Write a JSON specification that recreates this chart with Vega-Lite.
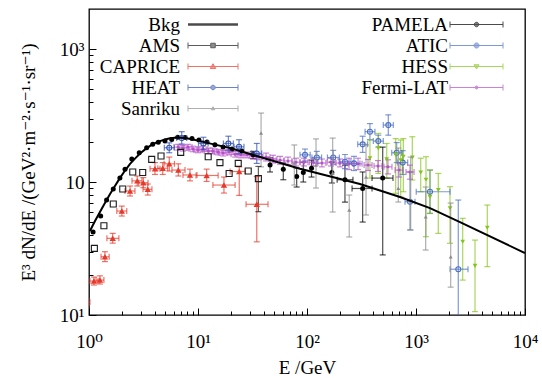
{
"$schema": "https://vega.github.io/schema/vega-lite/v6.json",
"width": 436, "height": 306,
"autosize": "none",
"padding": {"left": 89, "top": 9, "right": 17, "bottom": 63},
"background": "white",
"config": {
  "view": {"stroke": "#000000", "strokeWidth": 1.3},
  "font": "Liberation Serif, Times New Roman, DejaVu Serif, serif",
  "axis": {"domain": false, "grid": false, "labelFont": "Liberation Serif, Times New Roman, DejaVu Serif, serif", "labelFontSize": 19, "labelColor": "#000000", "titleFont": "Liberation Serif, Times New Roman, DejaVu Serif, serif", "titleFontSize": 19, "titleColor": "#000000", "titleFontWeight": "normal", "tickColor": "#000000", "tickWidth": 1, "labelFlush": false, "labelOverlap": false},
  "legend": {"labelFont": "Liberation Serif, Times New Roman, DejaVu Serif, serif", "labelFontSize": 19, "labelColor": "#000000"}
},
"data": {"values": [
{"s":"Bkg","E":1.02,"y":42.8},{"s":"Bkg","E":1.135,"y":50.9},{"s":"Bkg","E":1.26,"y":59.5},{"s":"Bkg","E":1.40,"y":69.5},{"s":"Bkg","E":1.56,"y":81.2},{"s":"Bkg","E":1.73,"y":93.3},{"s":"Bkg","E":1.92,"y":107},{"s":"Bkg","E":2.14,"y":122},{"s":"Bkg","E":2.38,"y":137},{"s":"Bkg","E":2.64,"y":150},{"s":"Bkg","E":2.94,"y":164},{"s":"Bkg","E":3.27,"y":176},{"s":"Bkg","E":3.63,"y":187},{"s":"Bkg","E":4.03,"y":196},{"s":"Bkg","E":4.48,"y":203},{"s":"Bkg","E":4.98,"y":209},{"s":"Bkg","E":5.54,"y":213},{"s":"Bkg","E":6.42,"y":216},{"s":"Bkg","E":7.60,"y":214},{"s":"Bkg","E":8.81,"y":210},{"s":"Bkg","E":10.4,"y":203},{"s":"Bkg","E":14.3,"y":191},{"s":"Bkg","E":19.7,"y":180},{"s":"Bkg","E":37.1,"y":154},{"s":"Bkg","E":86.3,"y":126},{"s":"Bkg","E":306,"y":96.6},{"s":"Bkg","E":713,"y":77.1},{"s":"Bkg","E":1344,"y":63.7},{"s":"Bkg","E":2533,"y":50.0},{"s":"Bkg","E":10000,"y":29.2},
{"s":"AMS","E":1.12,"y":31.7},{"s":"AMS","E":1.37,"y":46.9},{"s":"AMS","E":1.67,"y":68.3},{"s":"AMS","E":2.04,"y":88.6},{"s":"AMS","E":2.52,"y":119},{"s":"AMS","E":3.11,"y":118},{"s":"AMS","E":3.76,"y":148},{"s":"AMS","E":4.58,"y":157},{"s":"AMS","E":6.94,"y":167},{"s":"AMS","E":12.4,"y":155},{"s":"AMS","E":15.9,"y":140},{"s":"AMS","E":19.3,"y":116},{"s":"AMS","E":23.4,"y":138},{"s":"AMS","E":28.9,"y":121},{"s":"AMS","E":35.8,"y":106,"yl":59.8,"yh":131},
{"s":"CAPRICE","E":0.95,"y":12.5,"xl":0.9,"xh":1.02,"yl":11.8,"yh":13.3},
{"s":"CAPRICE","E":1.11,"y":18.0,"xl":1.02,"xh":1.21,"yl":16.8,"yh":19.3},
{"s":"CAPRICE","E":1.26,"y":18.3,"xl":1.16,"xh":1.37,"yl":17.1,"yh":19.7},
{"s":"CAPRICE","E":1.40,"y":27.4,"xl":1.29,"xh":1.53,"yl":25.2,"yh":29.9},
{"s":"CAPRICE","E":1.65,"y":37.7,"xl":1.46,"xh":1.88,"yl":34.7,"yh":41.1},
{"s":"CAPRICE","E":2.00,"y":60.5,"xl":1.80,"xh":2.22,"yl":55.5,"yh":65.9},
{"s":"CAPRICE","E":2.38,"y":85.6,"xl":2.14,"xh":2.64,"yl":78.5,"yh":93.3},
{"s":"CAPRICE","E":2.77,"y":102,"xl":2.48,"xh":3.06,"yl":93.3,"yh":111},
{"s":"CAPRICE","E":3.15,"y":98.8,"xl":2.85,"xh":3.48,"yl":90.6,"yh":108},
{"s":"CAPRICE","E":3.46,"y":88.1,"xl":3.13,"xh":3.78,"yl":79.8,"yh":96.6},
{"s":"CAPRICE","E":4.03,"y":126,"xl":3.63,"xh":4.48,"yl":114,"yh":140},
{"s":"CAPRICE","E":4.75,"y":127,"xl":4.28,"xh":5.27,"yl":114,"yh":140},
{"s":"CAPRICE","E":5.45,"y":137,"xl":4.88,"xh":6.08,"yl":121,"yh":154},
{"s":"CAPRICE","E":6.60,"y":123,"xl":5.77,"xh":7.60,"yl":111,"yh":137},
{"s":"CAPRICE","E":8.44,"y":113,"xl":7.28,"xh":9.79,"yl":102,"yh":125},
{"s":"CAPRICE","E":12.0,"y":112,"xl":9.59,"xh":15.3,"yl":101,"yh":125},
{"s":"CAPRICE","E":17.3,"y":94.9,"xl":13.7,"xh":21.9,"yl":82.6,"yh":109},
{"s":"CAPRICE","E":23.9,"y":120,"xl":19.7,"xh":27.0,"yl":79.3,"yh":130},
{"s":"CAPRICE","E":34.6,"y":68.0,"xl":27.6,"xh":43.9,"yl":35.5,"yh":110},
{"s":"HEAT","E":5.45,"y":181,"xl":4.91,"xh":6.06,"yl":166,"yh":197},
{"s":"HEAT","E":7.09,"y":214,"xl":6.38,"xh":7.88,"yl":193,"yh":239},
{"s":"HEAT","E":11.2,"y":195,"xl":10.1,"xh":12.4,"yl":175,"yh":217},
{"s":"HEAT","E":19.0,"y":195,"xl":17.1,"xh":21.1,"yl":173,"yh":221},
{"s":"HEAT","E":23.8,"y":184,"xl":21.4,"xh":26.4,"yl":163,"yh":208},
{"s":"HEAT","E":34.6,"y":164,"xl":31.1,"xh":38.4,"yl":138,"yh":195},
{"s":"Sanriku","E":37.9,"y":234,"yl":130,"yh":330},
{"s":"Sanriku","E":76.5,"y":139,"yl":94.9,"yh":190},
{"s":"Sanriku","E":121,"y":134,"yl":90.1,"yh":211},
{"s":"Sanriku","E":172,"y":117,"yl":59.5,"yh":214},
{"s":"Sanriku","E":244,"y":61.6,"yl":38.6,"yh":79.8},
{"s":"Sanriku","E":348,"y":109,"yl":56.5,"yh":190},
{"s":"Sanriku","E":688,"y":89.7,"yl":70.7,"yh":180},
{"s":"Sanriku","E":894,"y":73.2,"yl":43.6,"yh":154},
{"s":"Sanriku","E":1227,"y":54.8,"yl":30.8,"yh":91.7},
{"s":"Sanriku","E":2081,"y":27.4,"yl":16.2,"yh":69.5},
{"s":"PAMELA","E":1.09,"y":42.1},{"s":"PAMELA","E":1.28,"y":55.5},{"s":"PAMELA","E":1.45,"y":73.2},{"s":"PAMELA","E":1.67,"y":88.6},{"s":"PAMELA","E":1.92,"y":107},{"s":"PAMELA","E":2.14,"y":125},{"s":"PAMELA","E":2.47,"y":149},{"s":"PAMELA","E":2.89,"y":166},{"s":"PAMELA","E":3.38,"y":181},{"s":"PAMELA","E":3.84,"y":192},{"s":"PAMELA","E":4.32,"y":199},{"s":"PAMELA","E":4.98,"y":203},{"s":"PAMELA","E":5.74,"y":209},{"s":"PAMELA","E":6.51,"y":217},{"s":"PAMELA","E":7.60,"y":216},{"s":"PAMELA","E":8.81,"y":212},{"s":"PAMELA","E":10.2,"y":207},{"s":"PAMELA","E":12.1,"y":200},{"s":"PAMELA","E":14.3,"y":191},{"s":"PAMELA","E":17.0,"y":183},{"s":"PAMELA","E":20.5,"y":177},{"s":"PAMELA","E":25.3,"y":171},
{"s":"PAMELA","E":32.0,"y":160,"yl":150,"yh":170},
{"s":"PAMELA","E":45.8,"y":134,"yl":119,"yh":152},
{"s":"PAMELA","E":60.6,"y":125,"yl":104,"yh":139},
{"s":"PAMELA","E":80.4,"y":110,"yl":91.7,"yh":127},
{"s":"PAMELA","E":92.5,"y":118,"yl":100,"yh":141},
{"s":"PAMELA","E":110,"y":127,"yl":109,"yh":146},
{"s":"PAMELA","E":169,"y":118,"yl":98.3,"yh":141},
{"s":"PAMELA","E":223,"y":104,"yl":70.7,"yh":134,"xl":189,"xh":264},
{"s":"PAMELA","E":324,"y":89.4,"yl":50,"yh":119,"xl":259,"xh":395},
{"s":"PAMELA","E":495,"y":107,"yl":28.3,"yh":183,"xl":395,"xh":615},
{"s":"ATIC","E":95.9,"y":160,"xl":86.3,"xh":107,"yl":144,"yh":177},
{"s":"ATIC","E":123,"y":153,"xl":111,"xh":136,"yl":138,"yh":170},
{"s":"ATIC","E":174,"y":153,"xl":154,"xh":198,"yl":136,"yh":173},
{"s":"ATIC","E":223,"y":142,"xl":197,"xh":253,"yl":126,"yh":161},
{"s":"ATIC","E":270,"y":138,"xl":238,"xh":306,"yl":122,"yh":156},
{"s":"ATIC","E":324,"y":192,"xl":292,"xh":360,"yl":167,"yh":221},
{"s":"ATIC","E":378,"y":239,"xl":341,"xh":420,"yl":208,"yh":275},
{"s":"ATIC","E":451,"y":203,"xl":406,"xh":501,"yl":183,"yh":225},
{"s":"ATIC","E":557,"y":268,"xl":501,"xh":619,"yl":225,"yh":320},
{"s":"ATIC","E":665,"y":166,"xl":599,"xh":739,"yl":140,"yh":198},
{"s":"ATIC","E":755,"y":140,"xl":680,"xh":839,"yl":114,"yh":172},
{"s":"ATIC","E":881,"y":71.1,"xl":793,"xh":979,"yl":43.6,"yh":119},
{"s":"ATIC","E":1344,"y":84.5,"xl":1005,"xh":2051,"yl":58.0,"yh":123},
{"s":"ATIC","E":2443,"y":22.1,"xl":2051,"xh":3000,"yl":5,"yh":73.2},
{"s":"HESS","E":378,"y":151,"yl":107,"yh":207},
{"s":"HESS","E":451,"y":179,"yl":116,"yh":232},
{"s":"HESS","E":539,"y":148,"yl":107,"yh":195},
{"s":"HESS","E":651,"y":160,"yl":82.2,"yh":212},
{"s":"HESS","E":724,"y":146,"yl":77.1,"yh":207},
{"s":"HESS","E":765,"y":155,"yl":84.5,"yh":212},
{"s":"HESS","E":925,"y":153,"yl":103.5,"yh":219},
{"s":"HESS","E":1105,"y":118,"yl":84.5,"yh":151},
{"s":"HESS","E":1235,"y":104,"yl":38.8,"yh":155},
{"s":"HESS","E":1344,"y":77.1,"yl":58.2,"yh":123},
{"s":"HESS","E":1602,"y":87.1,"yl":41.1,"yh":116},
{"s":"HESS","E":2051,"y":63.4,"yl":34.6,"yh":92.2},
{"s":"HESS","E":2682,"y":35.6,"yl":18.3,"yh":53.3},
{"s":"HESS","E":3478,"y":23.4,"yl":10.6,"yh":36.6},
{"s":"HESS","E":4509,"y":45.3,"yl":23.1,"yh":67.1},
{"s":"Fermi-LAT","E":6.56,"y":183,"xl":6.03,"xh":7.13,"yl":174,"yh":192},
{"s":"Fermi-LAT","E":7.28,"y":180,"xl":6.69,"xh":7.92,"yl":171,"yh":189},
{"s":"Fermi-LAT","E":8.10,"y":183,"xl":7.44,"xh":8.81,"yl":174,"yh":192},
{"s":"Fermi-LAT","E":9.00,"y":177,"xl":8.27,"xh":9.79,"yl":169,"yh":186},
{"s":"Fermi-LAT","E":10.0,"y":174,"xl":9.19,"xh":10.9,"yl":166,"yh":183},
{"s":"Fermi-LAT","E":11.1,"y":177,"xl":10.2,"xh":12.1,"yl":169,"yh":186},
{"s":"Fermi-LAT","E":12.4,"y":171,"xl":11.4,"xh":13.5,"yl":163,"yh":180},
{"s":"Fermi-LAT","E":13.7,"y":171,"xl":12.6,"xh":14.9,"yl":163,"yh":180},
{"s":"Fermi-LAT","E":15.3,"y":168,"xl":14.1,"xh":16.6,"yl":160,"yh":176},
{"s":"Fermi-LAT","E":17.0,"y":165,"xl":15.6,"xh":18.5,"yl":157,"yh":173},
{"s":"Fermi-LAT","E":19.3,"y":168,"xl":17.7,"xh":21.0,"yl":160,"yh":176},
{"s":"Fermi-LAT","E":21.9,"y":162,"xl":20.1,"xh":23.8,"yl":154,"yh":170},
{"s":"Fermi-LAT","E":24.8,"y":160,"xl":22.8,"xh":27.0,"yl":152,"yh":168},
{"s":"Fermi-LAT","E":28.2,"y":160,"xl":25.9,"xh":30.7,"yl":152,"yh":168},
{"s":"Fermi-LAT","E":32.0,"y":157,"xl":29.4,"xh":34.8,"yl":149,"yh":165},
{"s":"Fermi-LAT","E":36.3,"y":154,"xl":33.4,"xh":39.5,"yl":147,"yh":162},
{"s":"Fermi-LAT","E":42.1,"y":154,"xl":38.7,"xh":45.8,"yl":144,"yh":165},
{"s":"Fermi-LAT","E":48.8,"y":149,"xl":44.8,"xh":53.1,"yl":139,"yh":159},
{"s":"Fermi-LAT","E":56.6,"y":146,"xl":52.0,"xh":61.6,"yl":136,"yh":156},
{"s":"Fermi-LAT","E":66.9,"y":144,"xl":61.5,"xh":72.8,"yl":135,"yh":154},
{"s":"Fermi-LAT","E":79.3,"y":141,"xl":72.9,"xh":86.3,"yl":132,"yh":151},
{"s":"Fermi-LAT","E":93.9,"y":141,"xl":86.3,"xh":102,"yl":132,"yh":151},
{"s":"Fermi-LAT","E":114,"y":141,"xl":105,"xh":124,"yl":132,"yh":151},
{"s":"Fermi-LAT","E":137,"y":139,"xl":126,"xh":149,"yl":130,"yh":149},
{"s":"Fermi-LAT","E":166,"y":141,"xl":153,"xh":181,"yl":132,"yh":151},
{"s":"Fermi-LAT","E":201,"y":139,"xl":185,"xh":219,"yl":130,"yh":149},
{"s":"Fermi-LAT","E":243,"y":137,"xl":223,"xh":264,"yl":124,"yh":151},
{"s":"Fermi-LAT","E":294,"y":137,"xl":270,"xh":320,"yl":124,"yh":151},
{"s":"Fermi-LAT","E":363,"y":134,"xl":334,"xh":395,"yl":122,"yh":148},
{"s":"Fermi-LAT","E":448,"y":132,"xl":412,"xh":487,"yl":120,"yh":145},
{"s":"Fermi-LAT","E":553,"y":130,"xl":508,"xh":602,"yl":115,"yh":147},
{"s":"Fermi-LAT","E":698,"y":123,"xl":642,"xh":760,"yl":109,"yh":139},
{"s":"Fermi-LAT","E":881,"y":119,"xl":810,"xh":959,"yl":105,"yh":134}
]},
"layer": [
{
 "transform": [{"filter": "indexof(['PAMELA','ATIC','HESS','Fermi-LAT'], datum.s) >= 0"}],
 "layer": [
  {"transform": [{"filter": "false"}], "mark": {"type": "point", "filled": false},
   "encoding": {
    "color": {"field": "s", "type": "nominal", "scale": {"domain": ["PAMELA","ATIC","HESS","Fermi-LAT"], "range": ["#000000","#4a6fc5","#84c51a","#b54fc8"]}},
    "fill": {"field": "s", "type": "nominal", "scale": {"domain": ["PAMELA","ATIC","HESS","Fermi-LAT"], "range": ["#000000","transparent","#84c51a","#b54fc8"]}},
    "shape": {"field": "s", "type": "nominal", "scale": {"domain": ["PAMELA","ATIC","HESS","Fermi-LAT"], "range": [
       "M-5.3,0H5.3M-5.3,-0.6V0.6M5.3,-0.6V0.6M-0.45,0A0.45,0.45,0,1,0,0.45,0A0.45,0.45,0,1,0,-0.45,0Z",
       "M-5.3,0H5.3M-5.3,-0.6V0.6M5.3,-0.6V0.6M-0.5,0A0.5,0.5,0,1,0,0.5,0A0.5,0.5,0,1,0,-0.5,0Z",
       "M-5.3,0H5.3M-5.3,-0.6V0.6M5.3,-0.6V0.6M-0.5,-0.35H0.5L0,0.5Z",
       "M-5.3,0H5.3M-5.3,-0.6V0.6M5.3,-0.6V0.6M-0.3,0A0.3,0.3,0,1,0,0.3,0A0.3,0.3,0,1,0,-0.3,0Z"]},
     "legend": {"title": null, "orient": "none", "legendX": 378, "legendY": 6, "padding": 0, "labelAlign": "right", "labelOffset": -38, "rowPadding": 1, "labelFontSize": 19, "symbolSize": 100, "symbolOpacity": 1, "symbolStrokeWidth": 1}}
   }},
  {"transform": [{"filter": "isValid(datum.yl)"}], "mark": {"type": "rule", "clip": true, "opacity": 0.7, "strokeWidth": 1.2},
   "encoding": {
    "x": {"field": "E", "type": "quantitative", "scale": {"type": "log", "domain": [1, 10000], "nice": false}, "axis": {"orient": "bottom", "values": [2,3,4,5,6,7,8,9,20,30,40,50,60,70,80,90,200,300,400,500,600,700,800,900,2000,3000,4000,5000,6000,7000,8000,9000], "labels": false, "tickSize": -4, "title": null}},
    "y": {"field": "yl", "type": "quantitative", "scale": {"type": "log", "domain": [10, 2000], "nice": false}, "axis": {"orient": "left", "values": [20,30,40,50,60,70,80,90,200,300,400,500,600,700,800,900], "labels": false, "tickSize": -4, "title": null}},
    "y2": {"field": "yh"},
    "color": {"field": "s", "type": "nominal", "scale": {"domain": ["PAMELA","ATIC","HESS","Fermi-LAT"], "range": ["#000000","#4a6fc5","#84c51a","#b54fc8"]}}
   }},
  {"transform": [{"filter": "isValid(datum.yl)"}], "mark": {"type": "tick", "orient": "horizontal", "size": 6, "thickness": 1.2, "clip": true, "opacity": 0.7},
   "encoding": {
    "x": {"field": "E", "type": "quantitative", "scale": {"type": "log", "domain": [1, 10000], "nice": false}, "axis": {"orient": "bottom", "values": [2,3,4,5,6,7,8,9,20,30,40,50,60,70,80,90,200,300,400,500,600,700,800,900,2000,3000,4000,5000,6000,7000,8000,9000], "labels": false, "tickSize": -4, "title": null}},
    "y": {"field": "yl", "type": "quantitative", "scale": {"type": "log", "domain": [10, 2000], "nice": false}, "axis": {"orient": "left", "values": [20,30,40,50,60,70,80,90,200,300,400,500,600,700,800,900], "labels": false, "tickSize": -4, "title": null}},
    "color": {"field": "s", "type": "nominal", "scale": {"domain": ["PAMELA","ATIC","HESS","Fermi-LAT"], "range": ["#000000","#4a6fc5","#84c51a","#b54fc8"]}}
   }},
  {"transform": [{"filter": "isValid(datum.yh)"}], "mark": {"type": "tick", "orient": "horizontal", "size": 6, "thickness": 1.2, "clip": true, "opacity": 0.7},
   "encoding": {
    "x": {"field": "E", "type": "quantitative", "scale": {"type": "log", "domain": [1, 10000], "nice": false}, "axis": {"orient": "bottom", "values": [2,3,4,5,6,7,8,9,20,30,40,50,60,70,80,90,200,300,400,500,600,700,800,900,2000,3000,4000,5000,6000,7000,8000,9000], "labels": false, "tickSize": -4, "title": null}},
    "y": {"field": "yh", "type": "quantitative", "scale": {"type": "log", "domain": [10, 2000], "nice": false}, "axis": {"orient": "left", "values": [20,30,40,50,60,70,80,90,200,300,400,500,600,700,800,900], "labels": false, "tickSize": -4, "title": null}},
    "color": {"field": "s", "type": "nominal", "scale": {"domain": ["PAMELA","ATIC","HESS","Fermi-LAT"], "range": ["#000000","#4a6fc5","#84c51a","#b54fc8"]}}
   }},
  {"transform": [{"filter": "isValid(datum.xl)"}], "mark": {"type": "rule", "clip": true, "opacity": 0.7, "strokeWidth": 1.2},
   "encoding": {
    "x": {"field": "xl", "type": "quantitative", "scale": {"type": "log", "domain": [1, 10000], "nice": false}, "axis": {"orient": "bottom", "values": [2,3,4,5,6,7,8,9,20,30,40,50,60,70,80,90,200,300,400,500,600,700,800,900,2000,3000,4000,5000,6000,7000,8000,9000], "labels": false, "tickSize": -4, "title": null}},
    "x2": {"field": "xh"},
    "y": {"field": "y", "type": "quantitative", "scale": {"type": "log", "domain": [10, 2000], "nice": false}, "axis": {"orient": "left", "values": [20,30,40,50,60,70,80,90,200,300,400,500,600,700,800,900], "labels": false, "tickSize": -4, "title": null}},
    "color": {"field": "s", "type": "nominal", "scale": {"domain": ["PAMELA","ATIC","HESS","Fermi-LAT"], "range": ["#000000","#4a6fc5","#84c51a","#b54fc8"]}}
   }},
  {"transform": [{"filter": "isValid(datum.xl)"}], "mark": {"type": "tick", "orient": "vertical", "size": 6, "thickness": 1.2, "clip": true, "opacity": 0.7},
   "encoding": {
    "x": {"field": "xl", "type": "quantitative", "scale": {"type": "log", "domain": [1, 10000], "nice": false}, "axis": {"orient": "bottom", "values": [2,3,4,5,6,7,8,9,20,30,40,50,60,70,80,90,200,300,400,500,600,700,800,900,2000,3000,4000,5000,6000,7000,8000,9000], "labels": false, "tickSize": -4, "title": null}},
    "y": {"field": "y", "type": "quantitative", "scale": {"type": "log", "domain": [10, 2000], "nice": false}, "axis": {"orient": "left", "values": [20,30,40,50,60,70,80,90,200,300,400,500,600,700,800,900], "labels": false, "tickSize": -4, "title": null}},
    "color": {"field": "s", "type": "nominal", "scale": {"domain": ["PAMELA","ATIC","HESS","Fermi-LAT"], "range": ["#000000","#4a6fc5","#84c51a","#b54fc8"]}}
   }},
  {"transform": [{"filter": "isValid(datum.xh)"}], "mark": {"type": "tick", "orient": "vertical", "size": 6, "thickness": 1.2, "clip": true, "opacity": 0.7},
   "encoding": {
    "x": {"field": "xh", "type": "quantitative", "scale": {"type": "log", "domain": [1, 10000], "nice": false}, "axis": {"orient": "bottom", "values": [2,3,4,5,6,7,8,9,20,30,40,50,60,70,80,90,200,300,400,500,600,700,800,900,2000,3000,4000,5000,6000,7000,8000,9000], "labels": false, "tickSize": -4, "title": null}},
    "y": {"field": "y", "type": "quantitative", "scale": {"type": "log", "domain": [10, 2000], "nice": false}, "axis": {"orient": "left", "values": [20,30,40,50,60,70,80,90,200,300,400,500,600,700,800,900], "labels": false, "tickSize": -4, "title": null}},
    "color": {"field": "s", "type": "nominal", "scale": {"domain": ["PAMELA","ATIC","HESS","Fermi-LAT"], "range": ["#000000","#4a6fc5","#84c51a","#b54fc8"]}}
   }},
  {"transform": [{"filter": "datum.s === 'ATIC'"}], "mark": {"type": "point", "shape": "circle", "size": 25, "filled": false, "opacity": 1, "strokeWidth": 1.1, "clip": true},
   "encoding": {
    "x": {"field": "E", "type": "quantitative", "scale": {"type": "log", "domain": [1, 10000], "nice": false}, "axis": {"orient": "bottom", "values": [2,3,4,5,6,7,8,9,20,30,40,50,60,70,80,90,200,300,400,500,600,700,800,900,2000,3000,4000,5000,6000,7000,8000,9000], "labels": false, "tickSize": -4, "title": null}},
    "y": {"field": "y", "type": "quantitative", "scale": {"type": "log", "domain": [10, 2000], "nice": false}, "axis": {"orient": "left", "values": [20,30,40,50,60,70,80,90,200,300,400,500,600,700,800,900], "labels": false, "tickSize": -4, "title": null}},
    "color": {"field": "s", "type": "nominal", "scale": {"domain": ["PAMELA","ATIC","HESS","Fermi-LAT"], "range": ["#000000","#4a6fc5","#84c51a","#b54fc8"]}}
   }},
  {"transform": [{"filter": "datum.s === 'HESS'"}], "mark": {"type": "point", "shape": "triangle-down", "size": 22, "filled": true, "opacity": 1, "clip": true},
   "encoding": {
    "x": {"field": "E", "type": "quantitative", "scale": {"type": "log", "domain": [1, 10000], "nice": false}, "axis": {"orient": "bottom", "values": [2,3,4,5,6,7,8,9,20,30,40,50,60,70,80,90,200,300,400,500,600,700,800,900,2000,3000,4000,5000,6000,7000,8000,9000], "labels": false, "tickSize": -4, "title": null}},
    "y": {"field": "y", "type": "quantitative", "scale": {"type": "log", "domain": [10, 2000], "nice": false}, "axis": {"orient": "left", "values": [20,30,40,50,60,70,80,90,200,300,400,500,600,700,800,900], "labels": false, "tickSize": -4, "title": null}},
    "color": {"field": "s", "type": "nominal", "scale": {"domain": ["PAMELA","ATIC","HESS","Fermi-LAT"], "range": ["#000000","#4a6fc5","#84c51a","#b54fc8"]}}
   }},
  {"transform": [{"filter": "datum.s === 'Fermi-LAT'"}], "mark": {"type": "point", "shape": "circle", "size": 9, "filled": true, "opacity": 1, "clip": true},
   "encoding": {
    "x": {"field": "E", "type": "quantitative", "scale": {"type": "log", "domain": [1, 10000], "nice": false}, "axis": {"orient": "bottom", "values": [2,3,4,5,6,7,8,9,20,30,40,50,60,70,80,90,200,300,400,500,600,700,800,900,2000,3000,4000,5000,6000,7000,8000,9000], "labels": false, "tickSize": -4, "title": null}},
    "y": {"field": "y", "type": "quantitative", "scale": {"type": "log", "domain": [10, 2000], "nice": false}, "axis": {"orient": "left", "values": [20,30,40,50,60,70,80,90,200,300,400,500,600,700,800,900], "labels": false, "tickSize": -4, "title": null}},
    "color": {"field": "s", "type": "nominal", "scale": {"domain": ["PAMELA","ATIC","HESS","Fermi-LAT"], "range": ["#000000","#4a6fc5","#84c51a","#b54fc8"]}}
   }},
  {"transform": [{"filter": "datum.s === 'PAMELA'"}], "mark": {"type": "point", "shape": "circle", "size": 25, "filled": true, "opacity": 1, "clip": true},
   "encoding": {
    "x": {"field": "E", "type": "quantitative", "scale": {"type": "log", "domain": [1, 10000], "nice": false}, "axis": {"orient": "bottom", "values": [2,3,4,5,6,7,8,9,20,30,40,50,60,70,80,90,200,300,400,500,600,700,800,900,2000,3000,4000,5000,6000,7000,8000,9000], "labels": false, "tickSize": -4, "title": null}},
    "y": {"field": "y", "type": "quantitative", "scale": {"type": "log", "domain": [10, 2000], "nice": false}, "axis": {"orient": "left", "values": [20,30,40,50,60,70,80,90,200,300,400,500,600,700,800,900], "labels": false, "tickSize": -4, "title": null}},
    "color": {"field": "s", "type": "nominal", "scale": {"domain": ["PAMELA","ATIC","HESS","Fermi-LAT"], "range": ["#000000","#4a6fc5","#84c51a","#b54fc8"]}}
   }}
 ]
},
{
 "transform": [{"filter": "indexof(['Bkg','AMS','CAPRICE','HEAT','Sanriku'], datum.s) >= 0"}],
 "layer": [
  {"transform": [{"filter": "false"}], "mark": {"type": "point", "filled": false},
   "encoding": {
    "color": {"field": "s", "type": "nominal", "scale": {"domain": ["Bkg","AMS","CAPRICE","HEAT","Sanriku"], "range": ["#000000","#1a1a1a","#e5392b","#2f4fb0","#8c8c8c"]}},
    "fill": {"field": "s", "type": "nominal", "scale": {"domain": ["Bkg","AMS","CAPRICE","HEAT","Sanriku"], "range": ["transparent","#ffffff","#e5392b","#ffffff","#8c8c8c"]}},
    "shape": {"field": "s", "type": "nominal", "scale": {"domain": ["Bkg","AMS","CAPRICE","HEAT","Sanriku"], "range": [
       "M-5,0H5M-5,0.15H5M-5,-0.15H5",
       "M-5,0H-0.45M0.45,0H5M-5,-0.6V0.6M5,-0.6V0.6M-0.45,-0.45H0.45V0.45H-0.45Z",
       "M-5,0H5M-5,-0.6V0.6M5,-0.6V0.6M-0.55,0.4L0,-0.55L0.55,0.4Z",
       "M-5,0H-0.45M0.45,0H5M-5,-0.6V0.6M5,-0.6V0.6M-0.45,0A0.45,0.45,0,1,0,0.45,0A0.45,0.45,0,1,0,-0.45,0Z",
       "M-5,0H5M-5,-0.6V0.6M5,-0.6V0.6M-0.35,0.25L0,-0.35L0.35,0.25Z"]},
     "legend": {"title": null, "orient": "none", "legendX": 114.5, "legendY": 6, "padding": 0, "labelAlign": "right", "labelOffset": -42.5, "rowPadding": 1, "labelFontSize": 19, "symbolSize": 100, "symbolOpacity": 1, "symbolStrokeWidth": 1}}
   }},
  {"transform": [{"filter": "isValid(datum.yl)"}], "mark": {"type": "rule", "clip": true, "opacity": 0.7, "strokeWidth": 1.2},
   "encoding": {
    "x": {"field": "E", "type": "quantitative", "scale": {"type": "log", "domain": [1, 10000], "nice": false}, "axis": {"orient": "bottom", "values": [1,10,100,1000,10000], "labelExpr": "datum.value==1?'10⁰':datum.value==10?'10¹':datum.value==100?'10²':datum.value==1000?'10³':'10⁴'", "tickSize": -7, "labelPadding": 24, "title": "E /GeV", "titlePadding": 7}},
    "y": {"field": "yl", "type": "quantitative", "scale": {"type": "log", "domain": [10, 2000], "nice": false}, "axis": {"orient": "left", "values": [10,100,1000], "labelExpr": "datum.value==10?'10¹':datum.value==100?'10':'10³'", "tickSize": -7, "labelPadding": 12, "title": "E³ dN/dE /(GeV²·m⁻²·s⁻¹·sr⁻¹)", "titleX": -61, "titleY": 153, "titleAngle": -90, "titleAlign": "center", "titleBaseline": "middle"}},
    "y2": {"field": "yh"},
    "color": {"field": "s", "type": "nominal", "scale": {"domain": ["Bkg","AMS","CAPRICE","HEAT","Sanriku"], "range": ["#000000","#1a1a1a","#e5392b","#2f4fb0","#8c8c8c"]}}
   }},
  {"transform": [{"filter": "isValid(datum.yl)"}], "mark": {"type": "tick", "orient": "horizontal", "size": 6, "thickness": 1.2, "clip": true, "opacity": 0.7},
   "encoding": {
    "x": {"field": "E", "type": "quantitative", "scale": {"type": "log", "domain": [1, 10000], "nice": false}, "axis": {"orient": "bottom", "values": [1,10,100,1000,10000], "labelExpr": "datum.value==1?'10⁰':datum.value==10?'10¹':datum.value==100?'10²':datum.value==1000?'10³':'10⁴'", "tickSize": -7, "labelPadding": 24, "title": "E /GeV", "titlePadding": 7}},
    "y": {"field": "yl", "type": "quantitative", "scale": {"type": "log", "domain": [10, 2000], "nice": false}, "axis": {"orient": "left", "values": [10,100,1000], "labelExpr": "datum.value==10?'10¹':datum.value==100?'10':'10³'", "tickSize": -7, "labelPadding": 12, "title": "E³ dN/dE /(GeV²·m⁻²·s⁻¹·sr⁻¹)", "titleX": -61, "titleY": 153, "titleAngle": -90, "titleAlign": "center", "titleBaseline": "middle"}},
    "color": {"field": "s", "type": "nominal", "scale": {"domain": ["Bkg","AMS","CAPRICE","HEAT","Sanriku"], "range": ["#000000","#1a1a1a","#e5392b","#2f4fb0","#8c8c8c"]}}
   }},
  {"transform": [{"filter": "isValid(datum.yh)"}], "mark": {"type": "tick", "orient": "horizontal", "size": 6, "thickness": 1.2, "clip": true, "opacity": 0.7},
   "encoding": {
    "x": {"field": "E", "type": "quantitative", "scale": {"type": "log", "domain": [1, 10000], "nice": false}, "axis": {"orient": "bottom", "values": [1,10,100,1000,10000], "labelExpr": "datum.value==1?'10⁰':datum.value==10?'10¹':datum.value==100?'10²':datum.value==1000?'10³':'10⁴'", "tickSize": -7, "labelPadding": 24, "title": "E /GeV", "titlePadding": 7}},
    "y": {"field": "yh", "type": "quantitative", "scale": {"type": "log", "domain": [10, 2000], "nice": false}, "axis": {"orient": "left", "values": [10,100,1000], "labelExpr": "datum.value==10?'10¹':datum.value==100?'10':'10³'", "tickSize": -7, "labelPadding": 12, "title": "E³ dN/dE /(GeV²·m⁻²·s⁻¹·sr⁻¹)", "titleX": -61, "titleY": 153, "titleAngle": -90, "titleAlign": "center", "titleBaseline": "middle"}},
    "color": {"field": "s", "type": "nominal", "scale": {"domain": ["Bkg","AMS","CAPRICE","HEAT","Sanriku"], "range": ["#000000","#1a1a1a","#e5392b","#2f4fb0","#8c8c8c"]}}
   }},
  {"transform": [{"filter": "isValid(datum.xl)"}], "mark": {"type": "rule", "clip": true, "opacity": 0.7, "strokeWidth": 1.2},
   "encoding": {
    "x": {"field": "xl", "type": "quantitative", "scale": {"type": "log", "domain": [1, 10000], "nice": false}, "axis": {"orient": "bottom", "values": [1,10,100,1000,10000], "labelExpr": "datum.value==1?'10⁰':datum.value==10?'10¹':datum.value==100?'10²':datum.value==1000?'10³':'10⁴'", "tickSize": -7, "labelPadding": 24, "title": "E /GeV", "titlePadding": 7}},
    "x2": {"field": "xh"},
    "y": {"field": "y", "type": "quantitative", "scale": {"type": "log", "domain": [10, 2000], "nice": false}, "axis": {"orient": "left", "values": [10,100,1000], "labelExpr": "datum.value==10?'10¹':datum.value==100?'10':'10³'", "tickSize": -7, "labelPadding": 12, "title": "E³ dN/dE /(GeV²·m⁻²·s⁻¹·sr⁻¹)", "titleX": -61, "titleY": 153, "titleAngle": -90, "titleAlign": "center", "titleBaseline": "middle"}},
    "color": {"field": "s", "type": "nominal", "scale": {"domain": ["Bkg","AMS","CAPRICE","HEAT","Sanriku"], "range": ["#000000","#1a1a1a","#e5392b","#2f4fb0","#8c8c8c"]}}
   }},
  {"transform": [{"filter": "isValid(datum.xl)"}], "mark": {"type": "tick", "orient": "vertical", "size": 6, "thickness": 1.2, "clip": true, "opacity": 0.7},
   "encoding": {
    "x": {"field": "xl", "type": "quantitative", "scale": {"type": "log", "domain": [1, 10000], "nice": false}, "axis": {"orient": "bottom", "values": [1,10,100,1000,10000], "labelExpr": "datum.value==1?'10⁰':datum.value==10?'10¹':datum.value==100?'10²':datum.value==1000?'10³':'10⁴'", "tickSize": -7, "labelPadding": 24, "title": "E /GeV", "titlePadding": 7}},
    "y": {"field": "y", "type": "quantitative", "scale": {"type": "log", "domain": [10, 2000], "nice": false}, "axis": {"orient": "left", "values": [10,100,1000], "labelExpr": "datum.value==10?'10¹':datum.value==100?'10':'10³'", "tickSize": -7, "labelPadding": 12, "title": "E³ dN/dE /(GeV²·m⁻²·s⁻¹·sr⁻¹)", "titleX": -61, "titleY": 153, "titleAngle": -90, "titleAlign": "center", "titleBaseline": "middle"}},
    "color": {"field": "s", "type": "nominal", "scale": {"domain": ["Bkg","AMS","CAPRICE","HEAT","Sanriku"], "range": ["#000000","#1a1a1a","#e5392b","#2f4fb0","#8c8c8c"]}}
   }},
  {"transform": [{"filter": "isValid(datum.xh)"}], "mark": {"type": "tick", "orient": "vertical", "size": 6, "thickness": 1.2, "clip": true, "opacity": 0.7},
   "encoding": {
    "x": {"field": "xh", "type": "quantitative", "scale": {"type": "log", "domain": [1, 10000], "nice": false}, "axis": {"orient": "bottom", "values": [1,10,100,1000,10000], "labelExpr": "datum.value==1?'10⁰':datum.value==10?'10¹':datum.value==100?'10²':datum.value==1000?'10³':'10⁴'", "tickSize": -7, "labelPadding": 24, "title": "E /GeV", "titlePadding": 7}},
    "y": {"field": "y", "type": "quantitative", "scale": {"type": "log", "domain": [10, 2000], "nice": false}, "axis": {"orient": "left", "values": [10,100,1000], "labelExpr": "datum.value==10?'10¹':datum.value==100?'10':'10³'", "tickSize": -7, "labelPadding": 12, "title": "E³ dN/dE /(GeV²·m⁻²·s⁻¹·sr⁻¹)", "titleX": -61, "titleY": 153, "titleAngle": -90, "titleAlign": "center", "titleBaseline": "middle"}},
    "color": {"field": "s", "type": "nominal", "scale": {"domain": ["Bkg","AMS","CAPRICE","HEAT","Sanriku"], "range": ["#000000","#1a1a1a","#e5392b","#2f4fb0","#8c8c8c"]}}
   }},
  {"transform": [{"filter": "datum.s === 'AMS'"}], "mark": {"type": "point", "shape": "square", "size": 36, "filled": false, "opacity": 1, "strokeWidth": 1.1, "clip": true},
   "encoding": {
    "x": {"field": "E", "type": "quantitative", "scale": {"type": "log", "domain": [1, 10000], "nice": false}, "axis": {"orient": "bottom", "values": [1,10,100,1000,10000], "labelExpr": "datum.value==1?'10⁰':datum.value==10?'10¹':datum.value==100?'10²':datum.value==1000?'10³':'10⁴'", "tickSize": -7, "labelPadding": 24, "title": "E /GeV", "titlePadding": 7}},
    "y": {"field": "y", "type": "quantitative", "scale": {"type": "log", "domain": [10, 2000], "nice": false}, "axis": {"orient": "left", "values": [10,100,1000], "labelExpr": "datum.value==10?'10¹':datum.value==100?'10':'10³'", "tickSize": -7, "labelPadding": 12, "title": "E³ dN/dE /(GeV²·m⁻²·s⁻¹·sr⁻¹)", "titleX": -61, "titleY": 153, "titleAngle": -90, "titleAlign": "center", "titleBaseline": "middle"}},
    "color": {"field": "s", "type": "nominal", "scale": {"domain": ["Bkg","AMS","CAPRICE","HEAT","Sanriku"], "range": ["#000000","#1a1a1a","#e5392b","#2f4fb0","#8c8c8c"]}}
   }},
  {"transform": [{"filter": "datum.s === 'CAPRICE'"}], "mark": {"type": "point", "shape": "triangle-up", "size": 40, "filled": true, "opacity": 1, "clip": true},
   "encoding": {
    "x": {"field": "E", "type": "quantitative", "scale": {"type": "log", "domain": [1, 10000], "nice": false}, "axis": {"orient": "bottom", "values": [1,10,100,1000,10000], "labelExpr": "datum.value==1?'10⁰':datum.value==10?'10¹':datum.value==100?'10²':datum.value==1000?'10³':'10⁴'", "tickSize": -7, "labelPadding": 24, "title": "E /GeV", "titlePadding": 7}},
    "y": {"field": "y", "type": "quantitative", "scale": {"type": "log", "domain": [10, 2000], "nice": false}, "axis": {"orient": "left", "values": [10,100,1000], "labelExpr": "datum.value==10?'10¹':datum.value==100?'10':'10³'", "tickSize": -7, "labelPadding": 12, "title": "E³ dN/dE /(GeV²·m⁻²·s⁻¹·sr⁻¹)", "titleX": -61, "titleY": 153, "titleAngle": -90, "titleAlign": "center", "titleBaseline": "middle"}},
    "color": {"field": "s", "type": "nominal", "scale": {"domain": ["Bkg","AMS","CAPRICE","HEAT","Sanriku"], "range": ["#000000","#1a1a1a","#e5392b","#2f4fb0","#8c8c8c"]}}
   }},
  {"transform": [{"filter": "datum.s === 'HEAT'"}], "mark": {"type": "point", "shape": "circle", "size": 25, "filled": false, "opacity": 1, "strokeWidth": 1.1, "clip": true},
   "encoding": {
    "x": {"field": "E", "type": "quantitative", "scale": {"type": "log", "domain": [1, 10000], "nice": false}, "axis": {"orient": "bottom", "values": [1,10,100,1000,10000], "labelExpr": "datum.value==1?'10⁰':datum.value==10?'10¹':datum.value==100?'10²':datum.value==1000?'10³':'10⁴'", "tickSize": -7, "labelPadding": 24, "title": "E /GeV", "titlePadding": 7}},
    "y": {"field": "y", "type": "quantitative", "scale": {"type": "log", "domain": [10, 2000], "nice": false}, "axis": {"orient": "left", "values": [10,100,1000], "labelExpr": "datum.value==10?'10¹':datum.value==100?'10':'10³'", "tickSize": -7, "labelPadding": 12, "title": "E³ dN/dE /(GeV²·m⁻²·s⁻¹·sr⁻¹)", "titleX": -61, "titleY": 153, "titleAngle": -90, "titleAlign": "center", "titleBaseline": "middle"}},
    "color": {"field": "s", "type": "nominal", "scale": {"domain": ["Bkg","AMS","CAPRICE","HEAT","Sanriku"], "range": ["#000000","#1a1a1a","#e5392b","#2f4fb0","#8c8c8c"]}}
   }},
  {"transform": [{"filter": "datum.s === 'Sanriku'"}], "mark": {"type": "point", "shape": "triangle-up", "size": 16, "filled": true, "opacity": 1, "clip": true},
   "encoding": {
    "x": {"field": "E", "type": "quantitative", "scale": {"type": "log", "domain": [1, 10000], "nice": false}, "axis": {"orient": "bottom", "values": [1,10,100,1000,10000], "labelExpr": "datum.value==1?'10⁰':datum.value==10?'10¹':datum.value==100?'10²':datum.value==1000?'10³':'10⁴'", "tickSize": -7, "labelPadding": 24, "title": "E /GeV", "titlePadding": 7}},
    "y": {"field": "y", "type": "quantitative", "scale": {"type": "log", "domain": [10, 2000], "nice": false}, "axis": {"orient": "left", "values": [10,100,1000], "labelExpr": "datum.value==10?'10¹':datum.value==100?'10':'10³'", "tickSize": -7, "labelPadding": 12, "title": "E³ dN/dE /(GeV²·m⁻²·s⁻¹·sr⁻¹)", "titleX": -61, "titleY": 153, "titleAngle": -90, "titleAlign": "center", "titleBaseline": "middle"}},
    "color": {"field": "s", "type": "nominal", "scale": {"domain": ["Bkg","AMS","CAPRICE","HEAT","Sanriku"], "range": ["#000000","#1a1a1a","#e5392b","#2f4fb0","#8c8c8c"]}}
   }},
  {"transform": [{"filter": "datum.s === 'Bkg'"}], "mark": {"type": "line", "strokeWidth": 2, "clip": true},
   "encoding": {
    "x": {"field": "E", "type": "quantitative", "scale": {"type": "log", "domain": [1, 10000], "nice": false}, "axis": {"orient": "bottom", "values": [1,10,100,1000,10000], "labelExpr": "datum.value==1?'10⁰':datum.value==10?'10¹':datum.value==100?'10²':datum.value==1000?'10³':'10⁴'", "tickSize": -7, "labelPadding": 24, "title": "E /GeV", "titlePadding": 7}},
    "y": {"field": "y", "type": "quantitative", "scale": {"type": "log", "domain": [10, 2000], "nice": false}, "axis": {"orient": "left", "values": [10,100,1000], "labelExpr": "datum.value==10?'10¹':datum.value==100?'10':'10³'", "tickSize": -7, "labelPadding": 12, "title": "E³ dN/dE /(GeV²·m⁻²·s⁻¹·sr⁻¹)", "titleX": -61, "titleY": 153, "titleAngle": -90, "titleAlign": "center", "titleBaseline": "middle"}},
    "color": {"field": "s", "type": "nominal", "scale": {"domain": ["Bkg","AMS","CAPRICE","HEAT","Sanriku"], "range": ["#000000","#1a1a1a","#e5392b","#2f4fb0","#8c8c8c"]}},
    "order": {"field": "E", "type": "quantitative"}
   }}
 ]
}
],
"resolve": {"scale": {"color": "independent", "shape": "independent", "fill": "independent"}, "legend": {"color": "independent", "shape": "independent", "fill": "independent"}, "axis": {"x": "independent", "y": "independent"}}
}
